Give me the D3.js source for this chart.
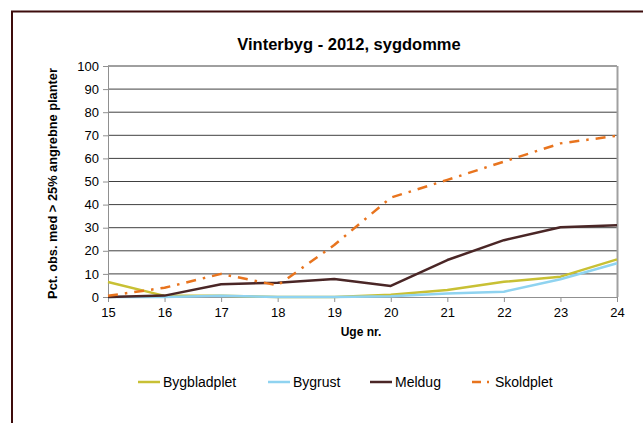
<!DOCTYPE html>
<html>
<head>
<meta charset="utf-8">
<script src="https://cdn.jsdelivr.net/npm/d3@7"></script>
<style>
  body { margin: 0; background: #fff; }
  svg { font-family: "Liberation Sans", Arial, sans-serif; }
</style>
</head>
<body>
<div id="chart"></div>
<script>
// data
var weeks = [15, 16, 17, 18, 19, 20, 21, 22, 23, 24];
var yTicks = [0, 10, 20, 30, 40, 50, 60, 70, 80, 90, 100];
var bygbladplet = [6.5, 0.5, 0.5, 0, 0, 1, 3, 6.6, 8.8, 16.3];
var bygrust = [0, 0, 0.5, 0, 0, 0.3, 1.5, 2.3, 7.7, 14.6];
var meldug = [0, 0.6, 5.5, 6.2, 7.8, 4.8, 16, 24.6, 30.2, 31.1];
var skoldplet = [0.5, 4, 10, 5, 22.5, 43, 50.7, 58.6, 66.5, 69.8];

var seriesNames = ["Bygbladplet", "Bygrust", "Meldug", "Skoldplet"];
var seriesValues = [bygbladplet, bygrust, meldug, skoldplet];
var colors = ["#c8c034", "#8fd3f0", "#4a2626", "#e8741e"];

var W = 643, H = 423;
var margin = { top: 66, right: 26, bottom: 126, left: 108 };
var width = W - margin.left - margin.right,
  height = H - margin.top - margin.bottom;

var svg = d3.select("#chart")
  .append("svg")
  .attr("width", W)
  .attr("height", H);

// outer frame (cropped on the right and bottom)
svg.append("path")
  .attr("d", "M12," + (H + 2) + "V11.5H" + (W + 2))
  .attr("fill", "none")
  .attr("stroke", "#3d0c0c")
  .attr("stroke-width", 2);

var g = svg.append("g")
  .attr("transform", "translate(" + margin.left + "," + margin.top + ")");

var x = d3.scaleLinear().domain([15, 24]).range([0, width]);
var y = d3.scaleLinear().domain([0, 100]).range([height, 0]);

// gridlines
g.append("g")
  .selectAll("line")
  .data(yTicks.slice(1))
  .enter().append("line")
  .attr("x1", 0)
  .attr("x2", width)
  .attr("y1", function (d) { return y(d); })
  .attr("y2", function (d) { return y(d); })
  .attr("stroke", "#404040")
  .attr("stroke-width", 1);

// right border of plot
g.append("line")
  .attr("x1", width + 0.5).attr("x2", width + 0.5)
  .attr("y1", 0).attr("y2", height)
  .attr("stroke", "#a0a0a0")
  .attr("stroke-width", 2);

// Y axis
var yAxis = g.append("g")
  .call(d3.axisLeft(y).tickValues(yTicks).tickSize(5).tickSizeOuter(0));
yAxis.select(".domain").attr("stroke", "#909090");
yAxis.selectAll(".tick line").attr("stroke", "#909090");
yAxis.selectAll("text").attr("font-size", 13).attr("fill", "#000").attr("dx", "-1");

// X axis
var xAxis = g.append("g")
  .attr("transform", "translate(0," + height + ")")
  .call(d3.axisBottom(x).tickValues(weeks).tickSize(5).tickSizeOuter(0).tickFormat(d3.format("d")));
xAxis.select(".domain").attr("stroke", "#909090");
xAxis.selectAll(".tick line").attr("stroke", "#909090");
xAxis.selectAll("text").attr("font-size", 13).attr("fill", "#000").attr("dy", "0.9em");

// lines
var line = d3.line()
  .x(function (d, i) { return x(weeks[i]); })
  .y(function (d) { return y(d); });

var order = [0, 1, 2, 3];
order.forEach(function (k) {
  var p = g.append("path")
    .datum(seriesValues[k])
    .attr("fill", "none")
    .attr("stroke", colors[k])
    .attr("stroke-width", 2.5)
    .attr("stroke-linejoin", "round")
    .attr("d", line);
  if (k == 3) p.attr("stroke-dasharray", "10,7,2.5,7");
});

// title
svg.append("text")
  .attr("x", 349)
  .attr("y", 50)
  .attr("text-anchor", "middle")
  .attr("font-size", 16.5)
  .attr("font-weight", "bold")
  .text("Vinterbyg - 2012, sygdomme");

// axis titles
svg.append("text")
  .attr("transform", "translate(57," + (margin.top + height / 2 + 2) + ") rotate(-90)")
  .attr("text-anchor", "middle")
  .attr("font-size", 12.8)
  .attr("font-weight", "bold")
  .text("Pct. obs. med > 25% angrebne planter");

svg.append("text")
  .attr("x", 361)
  .attr("y", 336)
  .attr("text-anchor", "middle")
  .attr("font-size", 12)
  .attr("font-weight", "bold")
  .text("Uge nr.");

// legend
var legendX = [138, 268, 370, 472];
var leg = svg.append("g")
  .selectAll("g")
  .data(seriesNames)
  .enter().append("g")
  .attr("transform", function (d, i) { return "translate(" + legendX[i] + ",382)"; });

leg.append("line")
  .attr("x1", 0).attr("x2", function (d, i) { return i == 3 ? 18 : 22; })
  .attr("y1", 0).attr("y2", 0)
  .attr("stroke", function (d, i) { return colors[i]; })
  .attr("stroke-width", 2.5)
  .attr("stroke-dasharray", function (d, i) { return i == 3 ? "9,6,2,6" : null; });

leg.append("text")
  .attr("x", function (d, i) { return i == 3 ? 23 : 25; })
  .attr("y", 0)
  .attr("dy", "0.35em")
  .attr("font-size", 14)
  .text(function (d) { return d; });
</script>
</body>
</html>
